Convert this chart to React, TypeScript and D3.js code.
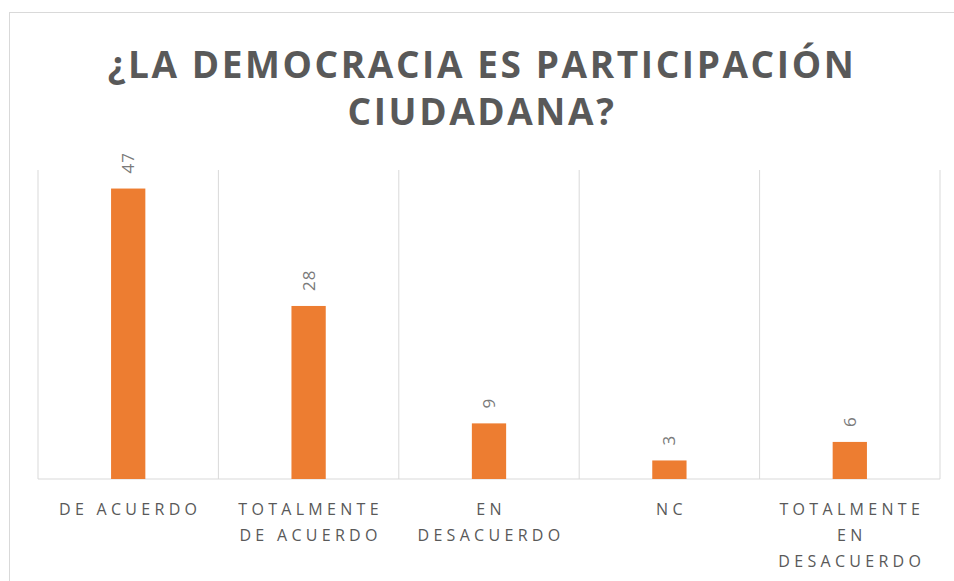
import React from "react";
import * as d3 from "d3";

const categories: string[][] = [
  ["DE ACUERDO"],
  ["TOTALMENTE", "DE ACUERDO"],
  ["EN", "DESACUERDO"],
  ["NC"],
  ["TOTALMENTE", "EN", "DESACUERDO"],
];
const values: number[] = [47, 28, 9, 3, 6];
const titleLines: string[] = ["¿LA DEMOCRACIA ES PARTICIPACIÓN", "CIUDADANA?"];

const W = 954;
const H = 581;
const plot = { left: 38, right: 940, top: 170, bottom: 479 };

export default function App() {
  const keys = categories.map((c) => c.join(" "));
  const x = d3.scaleBand<string>().domain(keys).range([plot.left, plot.right]).paddingInner(0).paddingOuter(0);
  const y = d3.scaleLinear().domain([0, 50]).range([plot.bottom, plot.top]);
  const barW = x.bandwidth() * 0.19;
  const grid = keys.map((k) => x(k)!).concat([plot.right]);
  const font = "'Open Sans', sans-serif";

  return (
    <div style={{ position: "absolute", left: 0, top: 0 }}>
      <svg width={W} height={H} style={{ display: "block", background: "#fff" }}>
        <rect x={9.5} y={12.5} width={W + 20} height={H + 20} fill="#fff" stroke="#d9d9d9" strokeWidth={1} />
        {titleLines.map((t, i) => (
          <text
            key={i}
            x={W / 2 + 5}
            y={78 + i * 47}
            textAnchor="middle"
            fontFamily={font}
            fontWeight={700}
            fontSize={37}
            letterSpacing={2.6}
            fill="#595959"
          >
            {t}
          </text>
        ))}
        {grid.map((gx, i) => (
          <line key={i} x1={gx} x2={gx} y1={plot.top} y2={plot.bottom} stroke="#d9d9d9" strokeWidth={1} />
        ))}
        <line x1={plot.left} x2={plot.right} y1={plot.bottom} y2={plot.bottom} stroke="#d9d9d9" strokeWidth={1} />
        {values.map((v, i) => {
          const cx = x(keys[i])! + x.bandwidth() / 2;
          return (
            <g key={i}>
              <rect x={cx - barW / 2} y={y(v)} width={barW} height={plot.bottom - y(v)} fill="#ED7D31" />
              <text
                transform={`translate(${cx + 6},${y(v) - 15}) rotate(-90)`}
                textAnchor="start"
                fontFamily={font}
                fontSize={17}
                letterSpacing={1}
                fill="#7a7a7a"
              >
                {v}
              </text>
            </g>
          );
        })}
        {categories.map((lines, i) => {
          const cx = x(keys[i])! + x.bandwidth() / 2;
          return (
            <text key={i} textAnchor="middle" fontFamily={font} fontSize={16} letterSpacing={4.3} fill="#595959">
              {lines.map((l, j) => (
                <tspan key={j} x={cx + 2} y={515 + j * 26}>
                  {l}
                </tspan>
              ))}
            </text>
          );
        })}
      </svg>
    </div>
  );
}
